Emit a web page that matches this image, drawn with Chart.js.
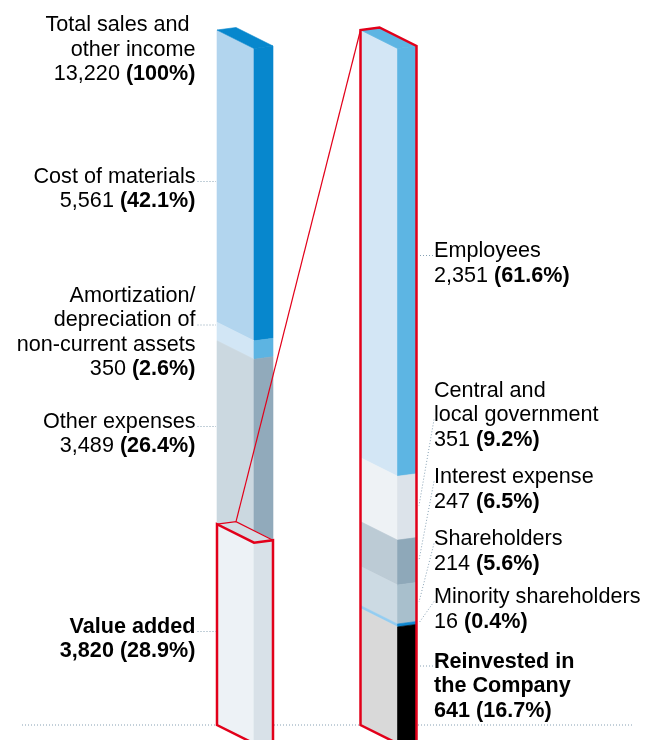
<!DOCTYPE html>
<html>
<head>
<meta charset="utf-8">
<script src="https://cdn.jsdelivr.net/npm/chart.js@4.4.1/dist/chart.umd.min.js"></script>
<style>
  html, body { margin: 0; padding: 0; background: #fff; }
  #wrap { width: 649px; height: 740px; }
</style>
</head>
<body>
<div id="wrap"><canvas id="chart" width="649" height="740"></canvas></div>
<script>
// Value added statement - two 3D-looking stacked columns

// ---- data ----
const columns = ['Total sales and other income', 'Value added'];
const totalSales = 13220;
const totalName = ['Total sales and ', 'other income'];

// left column, top to bottom
const costNames = [
    ['Cost of materials'],
    ['Amortization/', 'depreciation of', 'non-current assets'],
    ['Other expenses'],
    ['Value added']
];
const costValues = [5561, 350, 3489, 3820];
const costShares = [42.1, 2.6, 26.4, 28.9];

// right column (distribution of value added), top to bottom
const shareNames = [
    ['Employees'],
    ['Central and', 'local government'],
    ['Interest expense'],
    ['Shareholders'],
    ['Minority shareholders'],
    ['Reinvested in', 'the Company']
];
const shareValues = [2351, 351, 247, 214, 16, 641];
const sharePcts = [61.6, 9.2, 6.5, 5.6, 0.4, 16.7];

// ---- styles ----
const costFront = ['#b2d5ee', '#d2e6f5', '#cbd8e0', '#edf2f6'];
const costSide = ['#0787cd', '#5db4e2', '#91aabb', '#d8e1e8'];
const shareFront = ['#d3e6f5', '#eef2f5', '#bccbd5', '#ccdae3', '#93cdf1', '#d9d9d9'];
const shareSide = ['#5db5e3', '#dce3ea', '#8ea8b9', '#a8bfcc', '#0f87d0', '#000000'];
const RED = '#e2001a';
const DOTS = '#86a0b3';
const FONT = '"Liberation Sans", Arial, Helvetica, sans-serif';
const FS = 21.6;
const LH = 24.5;

const SHEAR = 18.5;   // drop of the front face across its width
const DX = 19;        // depth of the side face
const DY = -2.5;

// label anchors (first baseline), leader line index
const costLabelPos = [
    { y: 182.5, leader: 0 },
    { y: 301.5, leader: 1 },
    { y: 427.5, leader: 0 },
    { y: 632.5, leader: 0, bold: true }
];
const shareLabelPos = [
    { y: 257, leader: 0, flat: true },
    { y: 396.5, leader: 1 },
    { y: 483, leader: 0 },
    { y: 545, leader: 0 },
    { y: 603, leader: 0 },
    { y: 667.5, leader: 0, flat: true, bold: true }
];

const datasets = [];
for (let i = costValues.length - 1; i >= 0; i--) {
    datasets.push({
        label: costNames[i].join(' '),
        data: [costValues[i], null],
        yAxisID: 'y',
        group: 'cost', idx: i,
        backgroundColor: 'rgba(0,0,0,0)',
        barThickness: 37
    });
}
for (let i = shareValues.length - 1; i >= 0; i--) {
    datasets.push({
        label: shareNames[i].join(' '),
        data: [null, shareValues[i]],
        yAxisID: 'y2',
        group: 'share', idx: i,
        backgroundColor: 'rgba(0,0,0,0)',
        barThickness: 37
    });
}

function fmt(n) { return n.toLocaleString('en-US'); }

function geom(chart, group, idx) {
    const di = chart.data.datasets.findIndex(d => d.group === group && d.idx === idx);
    const el = chart.getDatasetMeta(di).data[group === 'cost' ? 0 : 1];
    const p = el.getProps(['x', 'y', 'base', 'width'], true);
    return { xl: p.x - p.width / 2, xr: p.x + p.width / 2, top: p.y, bot: p.base };
}

function poly(ctx, pts, fill, stroke, lw) {
    ctx.beginPath();
    ctx.moveTo(pts[0][0], pts[0][1]);
    for (let i = 1; i < pts.length; i++) ctx.lineTo(pts[i][0], pts[i][1]);
    ctx.closePath();
    if (fill) {
        ctx.fillStyle = fill;
        ctx.fill();
        ctx.strokeStyle = fill;
        ctx.lineWidth = 0.6;
        ctx.stroke();
    }
    if (stroke) {
        ctx.strokeStyle = stroke;
        ctx.lineWidth = lw;
        ctx.stroke();
    }
}

const front = g => [[g.xl, g.top], [g.xr, g.top + SHEAR], [g.xr, g.bot + SHEAR], [g.xl, g.bot]];
const side = g => [[g.xr, g.top + SHEAR], [g.xr + DX, g.top + SHEAR + DY], [g.xr + DX, g.bot + SHEAR + DY], [g.xr, g.bot + SHEAR]];
const topFace = g => [[g.xl, g.top], [g.xl + DX, g.top + DY], [g.xr + DX, g.top + SHEAR + DY], [g.xr, g.top + SHEAR]];

function line(ctx, pts, color, lw, dash) {
    ctx.save();
    ctx.beginPath();
    ctx.moveTo(pts[0][0], pts[0][1]);
    for (let i = 1; i < pts.length; i++) ctx.lineTo(pts[i][0], pts[i][1]);
    ctx.strokeStyle = color;
    ctx.lineWidth = lw;
    ctx.lineJoin = 'miter';
    ctx.setLineDash(dash || []);
    ctx.stroke();
    ctx.restore();
}

// parts: [{text, bold}], align 'left' or 'right'
function rich(ctx, parts, x, y, align) {
    let w = 0;
    parts.forEach(p => {
        ctx.font = (p.bold ? 'bold ' : '') + FS + 'px ' + FONT;
        p.w = ctx.measureText(p.text).width;
        w += p.w;
    });
    let cx = align === 'right' ? x - w : x;
    parts.forEach(p => {
        ctx.font = (p.bold ? 'bold ' : '') + FS + 'px ' + FONT;
        ctx.fillText(p.text, cx, y);
        cx += p.w;
    });
    return w;
}

const columnsPlugin = {
    id: 'columns3d',
    beforeDatasetsDraw(chart) {
        const ctx = chart.ctx;
        const y0 = chart.scales.y.getPixelForValue(0);
        line(ctx, [[22, y0], [632, y0]], DOTS, 1, [1, 2]);
    },
    afterDatasetsDraw(chart) {
        const ctx = chart.ctx;
        ctx.save();
        // left column
        costValues.forEach((v, i) => {
            const g = geom(chart, 'cost', i);
            poly(ctx, front(g), costFront[i]);
            poly(ctx, side(g), costSide[i]);
        });
        poly(ctx, topFace(geom(chart, 'cost', 0)), costSide[0]);

        // value added box pulled out
        const va = geom(chart, 'cost', costValues.length - 1);
        poly(ctx, topFace(va), '#d3dde4');
        line(ctx, [[va.xl, va.top], [va.xl + DX, va.top + DY], [va.xr + DX, va.top + SHEAR + DY]], RED, 1.2);
        line(ctx, [[va.xr + DX, va.bot + SHEAR + DY + 20], [va.xr + DX, va.top + SHEAR + DY], [va.xr, va.top + SHEAR],
            [va.xl, va.top], [va.xl, va.bot], [va.xr, va.bot + SHEAR]], RED, 2.5);

        // right column
        shareValues.forEach((v, i) => {
            const g = geom(chart, 'share', i);
            poly(ctx, front(g), shareFront[i]);
            poly(ctx, side(g), shareSide[i]);
        });
        const rt = geom(chart, 'share', 0);
        const rb = geom(chart, 'share', shareValues.length - 1);
        poly(ctx, topFace(rt), shareSide[0]);
        line(ctx, [[rb.xr + DX, rb.bot + SHEAR + DY + 20], [rt.xr + DX, rt.top + SHEAR + DY], [rt.xl + DX, rt.top + DY],
            [rt.xl, rt.top], [rb.xl, rb.bot], [rb.xr, rb.bot + SHEAR]], RED, 2.5);

        // connector
        line(ctx, [[va.xl + DX, va.top + DY], [rt.xl, rt.top]], RED, 1.2);
        ctx.restore();
    },
    afterDraw(chart) {
        const ctx = chart.ctx;
        ctx.save();
        ctx.fillStyle = '#000';
        ctx.textBaseline = 'alphabetic';
        const lx = 195.5;
        const rx = 434;

        // total label
        totalName.forEach((t, k) => rich(ctx, [{ text: t }], lx, 31 + k * LH, 'right'));
        rich(ctx, [{ text: fmt(totalSales) + ' ' }, { text: '(100%)', bold: true }], lx, 31 + totalName.length * LH, 'right');

        // left labels
        costNames.forEach((lines, i) => {
            const pos = costLabelPos[i];
            const g = geom(chart, 'cost', i);
            lines.forEach((t, k) => rich(ctx, [{ text: t, bold: pos.bold }], lx, pos.y + k * LH, 'right'));
            rich(ctx, [{ text: fmt(costValues[i]) + ' ', bold: pos.bold }, { text: '(' + costShares[i].toFixed(1) + '%)', bold: true }],
                lx, pos.y + lines.length * LH, 'right');
            const ly = pos.y + pos.leader * LH - 1;
            line(ctx, [[197.5, ly], [g.xl - 1, ly]], DOTS, 1, [1, 2]);
        });

        // right labels
        shareNames.forEach((lines, i) => {
            const pos = shareLabelPos[i];
            const g = geom(chart, 'share', i);
            lines.forEach((t, k) => rich(ctx, [{ text: t, bold: pos.bold }], rx, pos.y + k * LH, 'left'));
            rich(ctx, [{ text: fmt(shareValues[i]) + ' ', bold: pos.bold }, { text: '(' + sharePcts[i].toFixed(1) + '%)', bold: true }],
                rx, pos.y + lines.length * LH, 'left');
            const ly = pos.y + pos.leader * LH - 1.5;
            const ex = g.xr + DX + 2.5;
            if (pos.flat) {
                line(ctx, [[rx - 1, ly], [ex, ly]], DOTS, 1, [1, 2]);
            } else {
                const my = (g.top + g.bot) / 2 + SHEAR + DY;
                line(ctx, [[rx, ly], [ex, my]], DOTS, 1, [1, 2]);
            }
        });
        ctx.restore();
    }
};

new Chart(document.getElementById('chart'), {
    type: 'bar',
    data: { labels: columns, datasets: datasets },
    options: {
        responsive: false,
        animation: false,
        layout: { padding: { left: 163.75, right: 198.25, top: 30, bottom: 15 } },
        plugins: { legend: { display: false }, tooltip: { enabled: false } },
        scales: {
            x: { type: 'category', stacked: true, display: false, offset: true },
            y: { stacked: true, display: false, min: 0, max: totalSales },
            y2: { stacked: true, display: false, min: 0, max: costValues[costValues.length - 1], position: 'right' }
        }
    },
    plugins: [columnsPlugin]
});
</script>
</body>
</html>
